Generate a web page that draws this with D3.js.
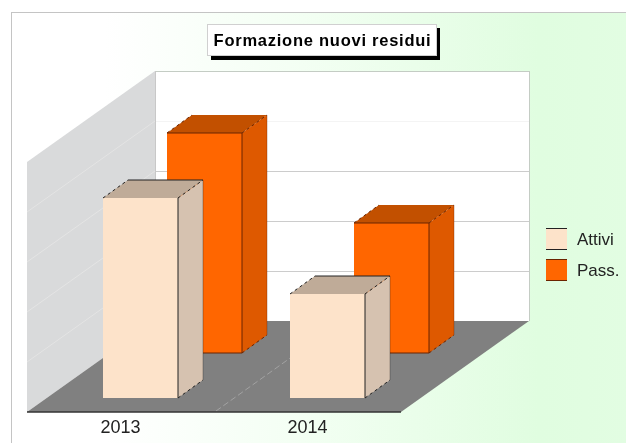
<!DOCTYPE html>
<html><head><meta charset="utf-8">
<script src="https://cdn.jsdelivr.net/npm/d3@7/dist/d3.min.js"></script>
<style>html,body{margin:0;padding:0;background:#fff}svg{display:block;filter:blur(0.35px)}text{font-family:"Liberation Sans",Arial,sans-serif}</style>
</head><body>
<svg id="c" width="626" height="443"></svg>
<script>
const chartTitle = "Formazione nuovi residui";
const categories = ["2013", "2014"];
const seriesNames = ["Attivi", "Pass."];
const attivi = [200, 104];
const passivi = [220, 130];
const gridTicks = [0, 50, 100, 150, 200, 250];
const frontColors = ["#fde3ca", "#ff6600"];
const topColors = ["#bfab98", "#c25000"];
const sideColors = ["#d6c2b0", "#de5900"];
const edgeColors = ["#222222", "#6b2400"];

const svg = d3.select("#c");
const defs = svg.append("defs");
const g = defs.append("linearGradient").attr("id","bg").attr("x1",0).attr("x2",1).attr("y1",0).attr("y2",0);
g.append("stop").attr("offset","0%").attr("stop-color","#ffffff");
g.append("stop").attr("offset","15%").attr("stop-color","#ffffff");
g.append("stop").attr("offset","45%").attr("stop-color","#f4fff4");
g.append("stop").attr("offset","85%").attr("stop-color","#e0fde0");
g.append("stop").attr("offset","100%").attr("stop-color","#e2fde2");

svg.append("rect").attr("x",11.5).attr("y",12.5).attr("width",620).attr("height",440)
  .attr("fill","url(#bg)").attr("stroke","#c4c4c4");

const left=27, right=401, floorY=412, dx=128, dy=-91, H=250;
const x = d3.scaleBand().domain(categories).range([left,right]);
const y = d3.scaleLinear().domain([0,250]).range([0,-H]);
const pts = a => a.map(p=>p.join(",")).join(" ");

// left wall, back wall, floor
svg.append("polygon").attr("points",pts([[left,floorY],[left,floorY-H],[left+dx,floorY+dy-H],[left+dx,floorY+dy]])).attr("fill","#d9dadb");
svg.append("rect").attr("x",left+dx).attr("y",floorY+dy-H).attr("width",right-left).attr("height",H).attr("fill","#fff");
svg.append("polygon").attr("points",pts([[left,floorY],[right,floorY],[right+dx,floorY+dy],[left+dx,floorY+dy]])).attr("fill","#808080");

// grid
gridTicks.forEach(t=>{
  const yy=floorY+y(t);
  if(t>0 && t<250) svg.append("line").attr("x1",left).attr("y1",yy).attr("x2",left+dx).attr("y2",yy+dy).attr("stroke","#e4e4e4");
  if(t>0) svg.append("line").attr("x1",left+dx).attr("y1",yy+dy+0.5).attr("x2",right+dx).attr("y2",yy+dy+0.5).attr("stroke",t===250?"#c4ccc4":(t===200?"#f4f4f4":"#cccccc"));
});
svg.append("line").attr("x1",right+dx+0.5).attr("y1",floorY+dy-H).attr("x2",right+dx+0.5).attr("y2",floorY+dy).attr("stroke","#c4ccc4");
svg.append("line").attr("x1",left+dx+0.5).attr("y1",floorY+dy-H).attr("x2",left+dx+0.5).attr("y2",floorY+dy).attr("stroke","#c8c8c8");
// floor divider
svg.append("line").attr("x1",x(categories[1])+2).attr("y1",floorY-1).attr("x2",x(categories[1])+dx).attr("y2",floorY+dy)
  .attr("stroke","#bdbdbd").attr("stroke-opacity",0.55).attr("stroke-dasharray","6 3");
svg.append("line").attr("x1",left).attr("y1",floorY).attr("x2",right).attr("y2",floorY).attr("stroke","#333").attr("stroke-width",1.5);

// bars: rear series first
const bw=75, bdx=25, bdy=-18, gapX=64, gapY=-45, startOff=76, baseY=398;
function bar(cat,val,s){
  const x0=x(cat)+startOff+s*gapX, x1=x0+bw, b=baseY+s*gapY, t=b+y(val);
  const e=edgeColors[s];
  svg.append("polygon").attr("points",pts([[x1,b],[x1+bdx,b+bdy],[x1+bdx,t+bdy],[x1,t]])).attr("fill",sideColors[s]);
  svg.append("polygon").attr("points",pts([[x0,t],[x1,t],[x1+bdx,t+bdy],[x0+bdx,t+bdy]])).attr("fill",topColors[s]);
  svg.append("rect").attr("x",x0).attr("y",t).attr("width",bw).attr("height",val).attr("fill",frontColors[s]);
  const seg=(a,b2,c,d,dash,op)=>svg.append("line").attr("x1",a).attr("y1",b2).attr("x2",c).attr("y2",d).attr("stroke",e).attr("stroke-opacity",op||1).attr("stroke-dasharray",dash?"3 3":null);
  seg(x1,t,x1,b);
  if(s===0) seg(x0+bdx,t+bdy,x1+bdx,t+bdy);
  seg(x1+bdx,t+bdy,x1+bdx,b+bdy,false,0.35);
  if(s===1){seg(x0,t,x1,t);seg(x0,b,x1,b);}
  seg(x0,t,x0+bdx,t+bdy,true);
  seg(x1,t,x1+bdx,t+bdy,true);
  seg(x1,b,x1+bdx,b+bdy,true);
}
[1,0].forEach(s=>categories.forEach((c,i)=>bar(c,(s?passivi:attivi)[i],s)));

// category labels
const ax=svg.append("g").attr("transform",`translate(0,${floorY+21})`);
ax.selectAll("text").data(categories).join("text")
  .attr("x",d=>x(d)+x.bandwidth()/2).attr("text-anchor","middle").attr("y",0)
  .attr("font-size",18).attr("fill","#222").text(d=>d);

// title
svg.append("rect").attr("x",211).attr("y",28).attr("width",229).attr("height",32).attr("fill","#000");
svg.append("rect").attr("x",207.5).attr("y",24.5).attr("width",229).attr("height",31).attr("fill","#fff").attr("stroke","#d0d0d0");
svg.append("text").attr("x",322.5).attr("y",46).attr("text-anchor","middle").attr("font-size",16.5).attr("letter-spacing",0.75).attr("font-weight","bold").attr("fill","#000").text(chartTitle);

// legend
seriesNames.forEach((n,i)=>{
  const ly=228+i*31;
  svg.append("rect").attr("x",546).attr("y",ly).attr("width",21).attr("height",21).attr("fill",frontColors[i]);
  [0,21].forEach(o=>svg.append("line").attr("x1",546).attr("x2",567).attr("y1",ly+o+0.5).attr("y2",ly+o+0.5).attr("stroke",edgeColors[i]));
  svg.append("text").attr("x",577).attr("y",ly+17).attr("font-size",17).attr("fill","#222").text(n);
});
</script>
</body></html>
